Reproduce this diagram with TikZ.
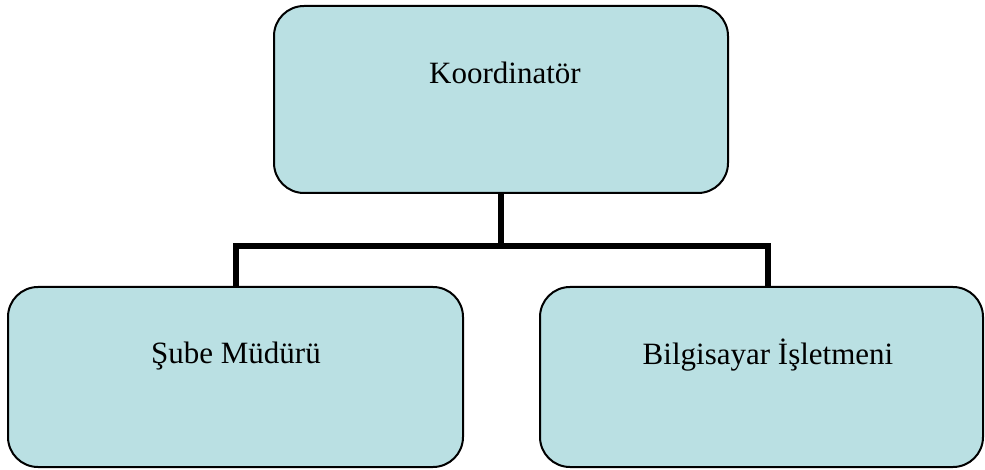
\documentclass[tikz,border=0pt]{standalone}
\usepackage{fontspec}
\setmainfont{Liberation Serif}
\definecolor{boxfill}{RGB}{186,224,227}
\begin{document}
\begin{tikzpicture}[x=1pt,y=-1pt,
  box/.style={draw=black,line width=2pt,fill=boxfill,rounded corners=30pt,inner sep=0pt,outer sep=0pt},
  conn/.style={draw=black,line width=6pt,line join=miter},
  lbl/.style={anchor=base,inner sep=0pt,font=\fontsize{31}{37}\selectfont}]
\useasboundingbox (0,0) rectangle (985,470);
% connectors first
\coordinate (j) at (501,246);
\node[box,minimum width=454pt,minimum height=187pt,fill=none,draw=none] (top) at (501,99.5) {};
\node[box,minimum width=455pt,minimum height=180pt,fill=none,draw=none] (left) at (235.5,377) {};
\node[box,minimum width=443pt,minimum height=180pt,fill=none,draw=none] (right) at (761.5,377) {};
\draw[conn] (top.south) -- (j);
\draw[conn] (left.north) |- (j) -| ([xshift=6pt]right.north);
% boxes
\draw[box] (top.north west) rectangle (top.south east);
\draw[box] (left.north west) rectangle (left.south east);
\draw[box] (right.north west) rectangle (right.south east);
% labels
\node[lbl] (t1) at (505,84) {Koordinatör};
\node[lbl] (t2) at (236,363) {Şube Müdürü};
\node[lbl] (t3) at (768,364) {Bilgisayar İşletmeni};
\end{tikzpicture}
\end{document}
